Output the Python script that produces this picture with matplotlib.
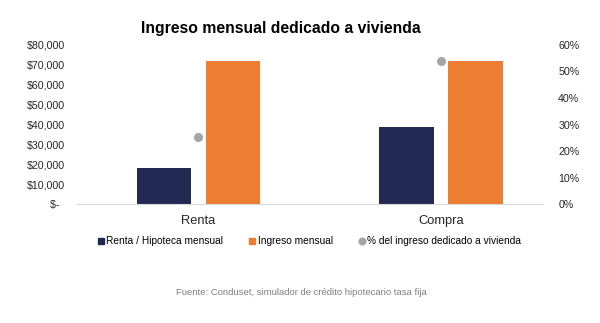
import matplotlib
matplotlib.use("Agg")
import matplotlib.pyplot as plt
from matplotlib.ticker import FuncFormatter, PercentFormatter
from matplotlib.lines import Line2D
from matplotlib.patches import Patch

plt.rcParams['font.family'] = ['Liberation Sans', 'DejaVu Sans']

categorias = ["Renta", "Compra"]
pago_mensual = [18100, 38600]
ingreso_mensual = [71800, 71800]
porcentaje = [0.252, 0.54]

azul = "#222A54"
naranja = "#ED7D31"
gris = "#A5A5A5"

fig = plt.figure(figsize=(6, 3.23), dpi=100)
ax = fig.add_axes([0.128, 0.368, 0.777, 0.493])
ax2 = ax.twinx()

x = range(len(categorias))
ancho = 0.223
desp = 0.142
ax.bar([i - desp for i in x], pago_mensual, width=ancho, color=azul, zorder=2)
ax.bar([i + desp for i in x], ingreso_mensual, width=ancho, color=naranja, zorder=2)
ax2.scatter(list(x), porcentaje, s=30, color=gris, zorder=3)

ax.set_xlim(-0.5, 1.42)
ax.set_ylim(0, 80000)
ax2.set_ylim(0, 0.6)
ax.set_yticks(range(0, 80001, 10000))
ax2.set_yticks([i / 10 for i in range(7)])

def pesos(v, pos):
    return "$-  " if v == 0 else "${:,.0f}".format(v)

ax.yaxis.set_major_formatter(FuncFormatter(pesos))
ax2.yaxis.set_major_formatter(PercentFormatter(1.0, decimals=0))

ax.set_xticks(list(x))
ax.set_xticklabels(categorias)

for a in (ax, ax2):
    for s in a.spines.values():
        s.set_visible(False)
    a.tick_params(length=0, labelsize=7.7, colors="#262626")
ax.spines["bottom"].set_visible(True)
ax.spines["bottom"].set_color("#D9D9D9")
ax.tick_params(axis="y", pad=8.5)
ax.tick_params(axis="x", pad=8, labelsize=9.3)
ax2.tick_params(axis="y", pad=11)

fig.text(0.468, 0.913, "Ingreso mensual dedicado a vivienda", ha="center", va="center",
         fontsize=11.3, fontweight="bold", color="#000000")

handles = [
    Patch(color=azul, label="Renta / Hipoteca mensual"),
    Patch(color=naranja, label="Ingreso mensual"),
    Line2D([], [], marker="o", linestyle="none", color=gris, markersize=4.8,
           label="% del ingreso dedicado a vivienda"),
]
fig.legend(handles=handles, loc="center", bbox_to_anchor=(0.516, 0.253), ncol=3,
           frameon=False, fontsize=7.3, handlelength=0.55, handleheight=0.55,
           handletextpad=0.25, columnspacing=2.6)

fig.text(0.503, 0.093, "Fuente: Conduset, simulador de crédito hipotecario tasa fija",
         ha="center", va="center", fontsize=6.8, color="#7F7F7F")

fig.savefig("out.png", dpi=100)
